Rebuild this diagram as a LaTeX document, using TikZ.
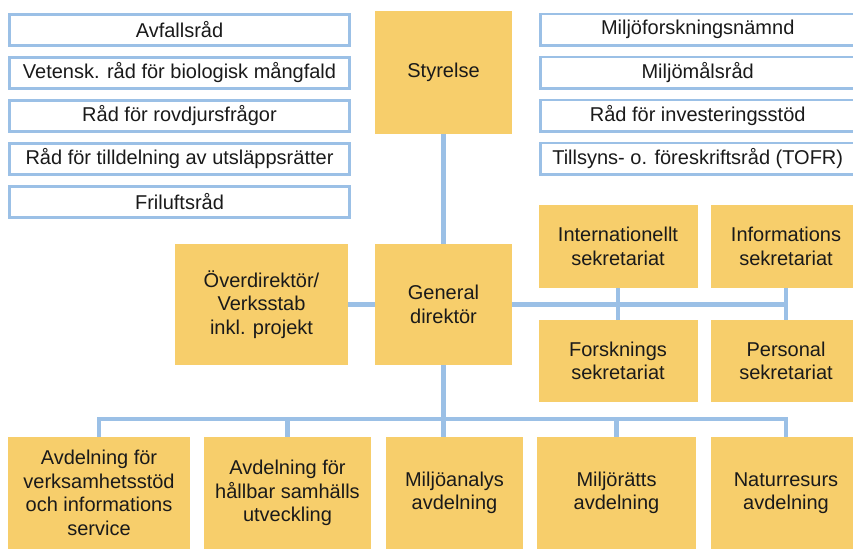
\documentclass[tikz,border=0pt]{standalone}
\usepackage{fontspec}
\setmainfont{Liberation Sans}
\usepackage{xcolor}
\usetikzlibrary{positioning}
\definecolor{orgyellow}{RGB}{247,206,107}
\definecolor{orgblue}{RGB}{155,192,230}
\definecolor{orgtext}{RGB}{26,26,26}
\newcommand{\orgfont}{\fontsize{20}{23.5}\selectfont}
\tikzset{
  orgbox/.style={fill=orgyellow, inner sep=0pt, align=center, text=orgtext, font=\orgfont},
  radbox/.style={draw=orgblue, line width=2.7pt, fill=white, inner sep=0pt, align=center, minimum height=31.3pt, text=orgtext, font=\orgfont},
  orgline/.style={draw=orgblue, line width=4.5pt}
}

\begin{document}
\begin{tikzpicture}[x=1pt, y=-1pt, node distance=9pt]
  \useasboundingbox[fill=white] (0,0) rectangle (853,550);

  \node[radbox, minimum width=340pt] (avfall) at (179.5,30) {Avfallsråd};
  \node[radbox, minimum width=340pt, below=of avfall] (biomangfald) {Vetensk. råd för biologisk mångfald};
  \node[radbox, minimum width=340pt, below=of biomangfald] (rovdjur) {Råd för rovdjursfrågor};
  \node[radbox, minimum width=340pt, below=of rovdjur] (utslapp) {Råd för tilldelning av utsläppsrätter};
  \node[radbox, minimum width=340pt, below=of utslapp] (friluft) {Friluftsråd};

  \node[radbox, minimum width=315pt] (miljoforsk) at (697.7,29.5) {Miljöforskningsnämnd};
  \node[radbox, minimum width=315pt, below=of miljoforsk] (miljomal) {Miljömålsråd};
  \node[radbox, minimum width=315pt, below=of miljomal] (invest) {Råd för investeringsstöd};
  \node[radbox, minimum width=315pt, below=of invest] (tofr) {Tillsyns- o. föreskriftsråd (TOFR)};

  \node[orgbox, minimum width=137pt, minimum height=123pt] (styrelse) at (443.5,72.5) {Styrelse};
  \node[orgbox, minimum width=137pt, minimum height=121pt] (gd) at (443.5,304.5) {General\\direktör};
  \node[orgbox, minimum width=173pt, minimum height=121pt] (overdir) at (261.5,304.5) {Överdirektör/\\Verksstab\\inkl. projekt};

  \node[orgbox, minimum width=159pt, minimum height=83pt] (intsekr) at (618,246.5) {Internationellt\\sekretariat};
  \node[orgbox, minimum width=150pt, minimum height=83pt] (infosekr) at (786,246.5) {Informations\\sekretariat};
  \node[orgbox, minimum width=159pt, minimum height=82pt] (forsksekr) at (618,361) {Forsknings\\sekretariat};
  \node[orgbox, minimum width=150pt, minimum height=82pt] (perssekr) at (786,361) {Personal\\sekretariat};

  \node[orgbox, minimum width=182pt, minimum height=112pt] (avdverk) at (99,493) {Avdelning för\\verksamhetsstöd\\och informations\\service};
  \node[orgbox, minimum width=167pt, minimum height=112pt] (avdsamh) at (287.5,493) {Avdelning för\\hållbar samhälls\\utveckling};
  \node[orgbox, minimum width=137pt, minimum height=112pt] (avdanalys) at (454.5,493) {Miljöanalys\\avdelning};
  \node[orgbox, minimum width=159pt, minimum height=112pt] (avdratt) at (616.5,493) {Miljörätts\\avdelning};
  \node[orgbox, minimum width=150pt, minimum height=112pt] (avdnatur) at (786,493) {Naturresurs\\avdelning};

  \coordinate (bus) at (443.5,419);
  \draw[orgline] (styrelse) -- (gd);
  \draw[orgline] (overdir) -- (gd);
  \draw[orgline] (gd.east) -- (gd.east -| infosekr.south);
  \draw[orgline] (intsekr) -- (forsksekr);
  \draw[orgline] (infosekr) -- (perssekr);
  \draw[orgline] (gd) -- (gd |- avdanalys.north);
  \draw[orgline] (avdverk.north) |- (bus) -| (avdnatur.north);
  \draw[orgline] (avdsamh) -- (avdsamh |- bus);
  \draw[orgline] (avdratt) -- (avdratt |- bus);
\end{tikzpicture}
\end{document}
